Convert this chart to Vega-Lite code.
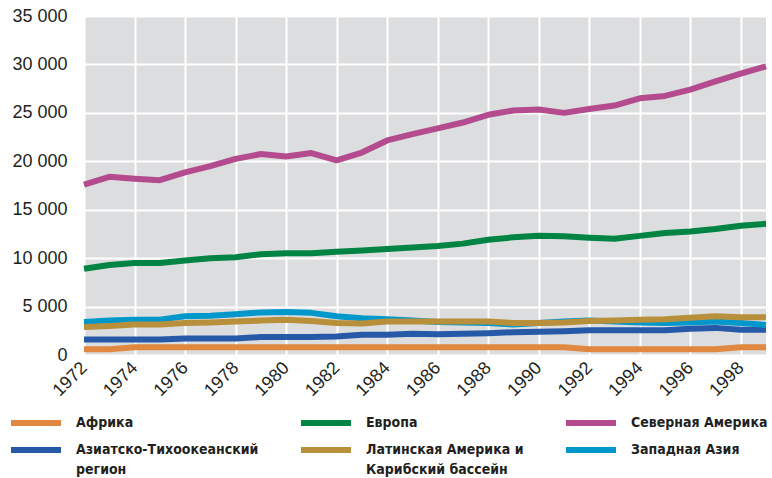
{
  "$schema": "https://vega.github.io/schema/vega-lite/v6.json",
  "width": 682,
  "height": 339,
  "autosize": {"type": "none"},
  "padding": {"left": 84, "top": 16, "right": 6, "bottom": 123},
  "background": "white",
  "config": {
    "view": {"fill": "#dcdddf", "stroke": null},
    "font": "Liberation Sans"
  },
  "data": {
    "values": [
      {"year": 1972, "Африка": 600, "Европа": 8900, "Северная Америка": 17600, "Азиатско-Тихоокеанский регион": 1600, "Западная Азия": 3400, "Латинская Америка и Карибский бассейн": 2900},
      {"year": 1973, "Африка": 600, "Европа": 9300, "Северная Америка": 18400, "Азиатско-Тихоокеанский регион": 1600, "Западная Азия": 3550, "Латинская Америка и Карибский бассейн": 3000},
      {"year": 1974, "Африка": 800, "Европа": 9500, "Северная Америка": 18200, "Азиатско-Тихоокеанский регион": 1600, "Западная Азия": 3650, "Латинская Америка и Карибский бассейн": 3150},
      {"year": 1975, "Африка": 800, "Европа": 9500, "Северная Америка": 18050, "Азиатско-Тихоокеанский регион": 1600, "Западная Азия": 3650, "Латинская Америка и Карибский бассейн": 3150},
      {"year": 1976, "Африка": 800, "Европа": 9750, "Северная Америка": 18850, "Азиатско-Тихоокеанский регион": 1700, "Западная Азия": 4000, "Латинская Америка и Карибский бассейн": 3300},
      {"year": 1977, "Африка": 800, "Европа": 10000, "Северная Америка": 19500, "Азиатско-Тихоокеанский регион": 1700, "Западная Азия": 4050, "Латинская Америка и Карибский бассейн": 3350},
      {"year": 1978, "Африка": 800, "Европа": 10100, "Северная Америка": 20250, "Азиатско-Тихоокеанский регион": 1700, "Западная Азия": 4200, "Латинская Америка и Карибский бассейн": 3450},
      {"year": 1979, "Африка": 800, "Европа": 10400, "Северная Америка": 20750, "Азиатско-Тихоокеанский регион": 1850, "Западная Азия": 4400, "Латинская Америка и Карибский бассейн": 3550},
      {"year": 1980, "Африка": 800, "Европа": 10500, "Северная Америка": 20500, "Азиатско-Тихоокеанский регион": 1850, "Западная Азия": 4450, "Латинская Америка и Карибский бассейн": 3650},
      {"year": 1981, "Африка": 800, "Европа": 10500, "Северная Америка": 20850, "Азиатско-Тихоокеанский регион": 1850, "Западная Азия": 4350, "Латинская Америка и Карибский бассейн": 3500},
      {"year": 1982, "Африка": 800, "Европа": 10650, "Северная Америка": 20100, "Азиатско-Тихоокеанский регион": 1900, "Западная Азия": 4000, "Латинская Америка и Карибский бассейн": 3300},
      {"year": 1983, "Африка": 800, "Европа": 10800, "Северная Америка": 20900, "Азиатско-Тихоокеанский регион": 2100, "Западная Азия": 3800, "Латинская Америка и Карибский бассейн": 3250},
      {"year": 1984, "Африка": 800, "Европа": 10950, "Северная Америка": 22150, "Азиатско-Тихоокеанский регион": 2100, "Западная Азия": 3700, "Латинская Америка и Карибский бассейн": 3450},
      {"year": 1985, "Африка": 800, "Европа": 11100, "Северная Америка": 22800, "Азиатско-Тихоокеанский регион": 2200, "Западная Азия": 3550, "Латинская Америка и Карибский бассейн": 3450},
      {"year": 1986, "Африка": 800, "Европа": 11250, "Северная Америка": 23400, "Азиатско-Тихоокеанский регион": 2150, "Западная Азия": 3400, "Латинская Америка и Карибский бассейн": 3450},
      {"year": 1987, "Африка": 800, "Европа": 11500, "Северная Америка": 24000, "Азиатско-Тихоокеанский регион": 2200, "Западная Азия": 3350, "Латинская Америка и Карибский бассейн": 3450},
      {"year": 1988, "Африка": 800, "Европа": 11900, "Северная Америка": 24800, "Азиатско-Тихоокеанский регион": 2250, "Западная Азия": 3300, "Латинская Америка и Карибский бассейн": 3450},
      {"year": 1989, "Африка": 800, "Европа": 12150, "Северная Америка": 25250, "Азиатско-Тихоокеанский регион": 2350, "Западная Азия": 3150, "Латинская Америка и Карибский бассейн": 3300},
      {"year": 1990, "Африка": 800, "Европа": 12300, "Северная Америка": 25350, "Азиатско-Тихоокеанский регион": 2400, "Западная Азия": 3300, "Латинская Америка и Карибский бассейн": 3300},
      {"year": 1991, "Африка": 800, "Европа": 12250, "Северная Америка": 25000, "Азиатско-Тихоокеанский регион": 2450, "Западная Азия": 3450, "Латинская Америка и Карибский бассейн": 3350},
      {"year": 1992, "Африка": 600, "Европа": 12100, "Северная Америка": 25400, "Азиатско-Тихоокеанский регион": 2550, "Западная Азия": 3550, "Латинская Америка и Карибский бассейн": 3500},
      {"year": 1993, "Африка": 600, "Европа": 12000, "Северная Америка": 25750, "Азиатско-Тихоокеанский регион": 2550, "Западная Азия": 3450, "Латинская Америка и Карибский бассейн": 3550},
      {"year": 1994, "Африка": 600, "Европа": 12300, "Северная Америка": 26500, "Азиатско-Тихоокеанский регион": 2550, "Западная Азия": 3350, "Латинская Америка и Карибский бассейн": 3650},
      {"year": 1995, "Африка": 600, "Европа": 12600, "Северная Америка": 26750, "Азиатско-Тихоокеанский регион": 2550, "Западная Азия": 3300, "Латинская Америка и Карибский бассейн": 3700},
      {"year": 1996, "Африка": 600, "Европа": 12750, "Северная Америка": 27400, "Азиатско-Тихоокеанский регион": 2700, "Западная Азия": 3350, "Латинская Америка и Карибский бассейн": 3850},
      {"year": 1997, "Африка": 600, "Европа": 13000, "Северная Америка": 28250, "Азиатско-Тихоокеанский регион": 2800, "Западная Азия": 3450, "Латинская Америка и Карибский бассейн": 4000},
      {"year": 1998, "Африка": 800, "Европа": 13350, "Северная Америка": 29050, "Азиатско-Тихоокеанский регион": 2600, "Западная Азия": 3300, "Латинская Америка и Карибский бассейн": 3900},
      {"year": 1999, "Африка": 800, "Европа": 13550, "Северная Америка": 29800, "Азиатско-Тихоокеанский регион": 2600, "Западная Азия": 3100, "Латинская Америка и Карибский бассейн": 3900}
    ]
  },
  "transform": [
    {"fold": ["Африка", "Европа", "Северная Америка", "Азиатско-Тихоокеанский регион", "Западная Азия", "Латинская Америка и Карибский бассейн"], "as": ["region", "value"]}
  ],
  "mark": {"type": "line", "strokeWidth": 6, "strokeJoin": "round"},
  "encoding": {
    "x": {
      "field": "year",
      "type": "quantitative",
      "scale": {"domain": [1972, 1999], "nice": false, "zero": false},
      "axis": {
        "title": null,
        "values": [1972, 1974, 1976, 1978, 1980, 1982, 1984, 1986, 1988, 1990, 1992, 1994, 1996, 1998],
        "format": "d",
        "domain": false,
        "ticks": false,
        "grid": true,
        "gridColor": "white",
        "gridWidth": 2,
        "gridOpacity": 1,
        "labelAngle": -45,
        "labelAlign": "right",
        "labelBaseline": "middle",
        "labelPadding": 10,
        "labelFontSize": 18,
        "labelColor": "#231f20",
        "labelFont": "Liberation Sans"
      }
    },
    "y": {
      "field": "value",
      "type": "quantitative",
      "scale": {"domain": [0, 35000], "nice": false},
      "axis": {
        "title": null,
        "values": [0, 5000, 10000, 15000, 20000, 25000, 30000, 35000],
        "labelExpr": "replace(format(datum.value, ','), ',', ' ')",
        "domain": false,
        "ticks": false,
        "grid": true,
        "gridColor": "white",
        "gridWidth": 2,
        "gridOpacity": 1,
        "labelPadding": 17,
        "labelFontSize": 18,
        "labelColor": "#231f20",
        "labelFont": "Liberation Sans"
      }
    },
    "color": {
      "field": "region",
      "type": "nominal",
      "scale": {
        "domain": ["Африка", "Европа", "Северная Америка", "Азиатско-Тихоокеанский регион", "Латинская Америка и Карибский бассейн", "Западная Азия"],
        "range": ["#e0883f", "#008444", "#b34b8e", "#2659a8", "#b88f3a", "#0098cb"]
      },
      "legend": {
        "title": null,
        "orient": "none",
        "direction": "horizontal",
        "legendX": -76,
        "legendY": 397,
        "columns": 3,
        "symbolType": "stroke",
        "symbolSize": 2500,
        "symbolStrokeWidth": 6,
        "clipHeight": 20,
        "rowPadding": 7,
        "columnPadding": 39,
        "labelOffset": 12,
        "labelFont": "DejaVu Sans Condensed",
        "labelFontWeight": "bold",
        "labelFontSize": 14,
        "labelColor": "#231f20",
        "labelLimit": 400,
        "labelBaseline": "top",
        "labelExpr": "datum.label == 'Азиатско-Тихоокеанский регион' ? ['Азиатско-Тихоокеанский', 'регион'] : datum.label == 'Латинская Америка и Карибский бассейн' ? ['Латинская Америка и', 'Карибский бассейн'] : datum.label",
        "encode": {
          "labels": {"update": {"dy": {"value": -7}, "lineHeight": {"value": 20}}}
        }
      }
    }
  }
}
